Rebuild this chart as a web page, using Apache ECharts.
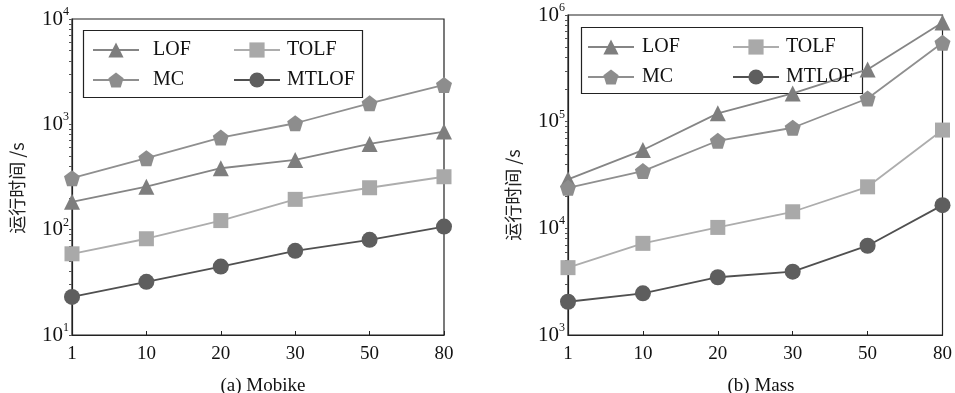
<!DOCTYPE html>
<html>
<head>
<meta charset="utf-8">
<script src="https://cdn.jsdelivr.net/npm/echarts@6/dist/echarts.min.js"></script>
<style>
  html, body { margin: 0; padding: 0; background: #fff; }
  #main { width: 955px; height: 393px; }
</style>
</head>
<body>
<div id="main"></div>
<script>
// x 轴类别
const categories = ['1', '10', '20', '30', '50', '80'];

// (a) Mobike 运行时间
const mobikeLOF = [184, 256, 383, 459, 652, 853];
const mobikeMC = [308, 477, 748, 1024, 1585, 2366];
const mobikeTOLF = [59, 82, 122, 194, 250, 318];
const mobikeMTLOF = [23, 32, 44.6, 63, 80, 107];

// (b) Mass 运行时间
const massLOF = [28800, 54200, 119700, 184000, 309000, 851000];
const massMC = [24000, 34400, 66200, 87700, 165000, 549000];
const massTOLF = [4280, 7230, 10200, 14300, 24500, 83400];
const massMTLOF = [2050, 2460, 3480, 3920, 6870, 16500];

// 对数轴刻度 (1..9 × 10^n)
function logTicks(bases) {
  const ticks = [];
  bases.forEach((base) => {
    for (let k = 1; k <= 9; k++) ticks.push(base * k);
  });
  return ticks;
}
const mobikeTicks = logTicks([10, 100, 1000]).concat([10000]);
const massTicks = logTicks([1e3, 1e4, 1e5]).concat([1e6]);

const serif = '"Liberation Serif", "DejaVu Serif", serif';
const pentagon = 'path://M0,-10 L9.51,-3.09 L5.88,8.09 L-5.88,8.09 L-9.51,-3.09 Z';

const styles = {
  LOF: { color: '#7e7e7e', line: '#858585', symbol: 'triangle', size: 16 },
  MC: { color: '#8d8d8d', line: '#8f8f8f', symbol: pentagon, size: 16 },
  TOLF: { color: '#a9a9a9', line: '#adadad', symbol: 'rect', size: 15 },
  MTLOF: { color: '#5e5e5e', line: '#505050', symbol: 'circle', size: 16 },
};

function makeSeries(name, data, idx) {
  const s = styles[name];
  return {
    name,
    type: 'line',
    xAxisIndex: idx,
    yAxisIndex: idx,
    data,
    symbol: s.symbol,
    symbolSize: s.size,
    lineStyle: { color: s.line, width: 1.8 },
    itemStyle: { color: s.color },
    emphasis: { disabled: true },
    z: 2,
  };
}

function powLabel(v) {
  const e = Math.round(Math.log10(v));
  return '{b|10}{s|' + e + '}';
}

const yLabel = {
  formatter: powLabel,
  margin: 3,
  rich: {
    b: { fontFamily: serif, fontSize: 21, color: '#111' },
    s: { fontFamily: serif, fontSize: 12, color: '#111', padding: [0, 0, 14, 0] },
  },
};

function xAxisOpt(idx) {
  return {
    type: 'category',
    gridIndex: idx,
    data: categories,
    boundaryGap: false,
    axisLine: { lineStyle: { color: '#222', width: 1.2 } },
    axisTick: { inside: true, length: 4, lineStyle: { color: '#222' } },
    axisLabel: { fontFamily: serif, fontSize: 19, color: '#111', margin: 10 },
    splitLine: { show: false },
  };
}

function yAxisOpt(idx, min, max, shift, ticks) {
  return {
    type: 'log',
    logBase: 10,
    gridIndex: idx,
    position: 'left',
    min,
    max,
    name: '运行时间 /s',
    nameLocation: 'middle',
    nameRotate: 90,
    nameGap: 46,
    nameTextStyle: {
      fontFamily: '"Noto Sans CJK SC", sans-serif',
      fontSize: 18,
      color: '#222',
      padding: [0, shift, 0, 0],
    },
    axisLine: { show: true, lineStyle: { color: '#222', width: 1.2 } },
    axisTick: {
      show: true,
      inside: false,
      length: 3,
      customValues: ticks,
      lineStyle: { color: '#555', width: 1 },
    },
    axisLabel: yLabel,
    splitLine: { show: false },
  };
}

function legendOpt(left, top, data, pad) {
  return {
    left,
    top,
    padding: 0,
    orient: 'vertical',
    data,
    itemWidth: 46,
    itemHeight: 19,
    itemGap: 10,
    selectedMode: false,
    textStyle: { fontFamily: serif, fontSize: 20, color: '#111', padding: [0, 0, 0, pad] },
    z: 5,
  };
}

const chart = echarts.init(document.getElementById('main'));
chart.setOption({
  animation: false,
  backgroundColor: '#fff',
  title: [
    { text: '(a) Mobike', left: 258, top: 372, textAlign: 'center',
      textStyle: { fontFamily: serif, fontSize: 19, fontWeight: 'normal', color: '#111' } },
    { text: '(b) Mass', left: 756, top: 372, textAlign: 'center',
      textStyle: { fontFamily: serif, fontSize: 19, fontWeight: 'normal', color: '#111' } },
  ],
  grid: [
    { left: 72, right: 511, top: 19, bottom: 58, show: true, borderColor: '#222', borderWidth: 1.2, backgroundColor: 'transparent' },
    { left: 568, right: 11, top: 15, bottom: 58, show: true, borderColor: '#222', borderWidth: 1.2, backgroundColor: 'transparent' },
  ],
  xAxis: [xAxisOpt(0), xAxisOpt(1)],
  yAxis: [
    yAxisOpt(0, 10, 10000, 22, mobikeTicks),
    yAxisOpt(1, 1000, 1000000, 40, massTicks),
  ],
  legend: [
    legendOpt(92, 40, ['LOF', 'MC'], 9),
    legendOpt(233, 40, ['TOLF', 'MTLOF'], 2),
    legendOpt(587, 37, ['LOF', 'MC'], 3),
    legendOpt(732, 37, ['TOLF', 'MTLOF'], 2),
  ],
  graphic: [
    { type: 'rect', z: 1, shape: { x: 83.5, y: 30.5, width: 279, height: 67 },
      style: { fill: 'none', stroke: '#222', lineWidth: 1.2 } },
    { type: 'rect', z: 1, shape: { x: 581.5, y: 27.5, width: 281, height: 66 },
      style: { fill: 'none', stroke: '#222', lineWidth: 1.2 } },
  ],
  series: [
    makeSeries('LOF', mobikeLOF, 0),
    makeSeries('TOLF', mobikeTOLF, 0),
    makeSeries('MC', mobikeMC, 0),
    makeSeries('MTLOF', mobikeMTLOF, 0),
    makeSeries('LOF', massLOF, 1),
    makeSeries('TOLF', massTOLF, 1),
    makeSeries('MC', massMC, 1),
    makeSeries('MTLOF', massMTLOF, 1),
  ],
});
</script>
</body>
</html>
